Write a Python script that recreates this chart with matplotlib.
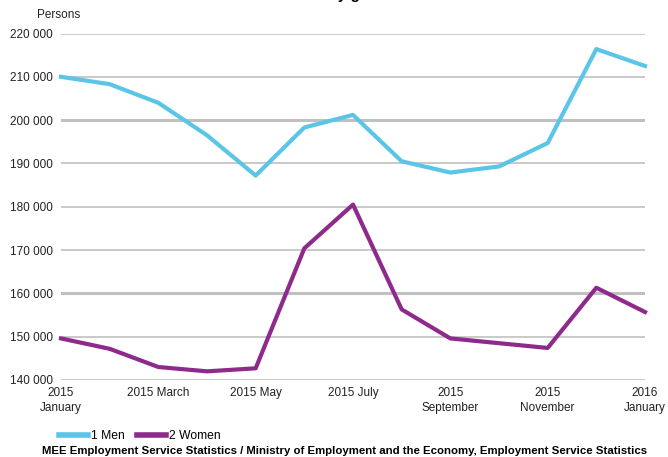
import numpy as np
import matplotlib
matplotlib.use("Agg")
import matplotlib.pyplot as plt
from matplotlib.ticker import FuncFormatter
from matplotlib.lines import Line2D

plt.rcParams['font.family'] = ['Liberation Sans', 'DejaVu Sans']

# monthly data, Jan 2015 .. Jan 2016
months = np.arange(13)
men = [210000, 208300, 204000, 196500, 187200, 198300, 201200,
       190500, 187900, 189300, 194700, 216400, 212500]
women = [149600, 147200, 143000, 142000, 142700, 170400, 180500,
         156300, 149600, 148500, 147400, 161300, 155700]
tick_pos = [0, 2, 4, 6, 8, 10, 12]
tick_labels = ["2015\nJanuary", "2015 March", "2015 May", "2015 July",
               "2015\nSeptember", "2015\nNovember", "2016\nJanuary"]
series_names = ["1 Men", "2 Women"]

c_men = "#5bc5e8"
c_women = "#8e2a8c"

fig = plt.figure(figsize=(6.68, 4.57), dpi=100)
ax = fig.add_axes([61/668, 1 - 380/457, 584/668, 346.5/457])

ax.set_xlim(0, 12)
ax.set_ylim(140000, 220000)
ax.set_yticks(np.arange(140000, 220001, 10000))
for v in ax.get_yticks():
    lw = 2.2 if v in (160000, 200000) else 1.2
    ax.axhline(v, color="#c0c0c0", lw=lw, zorder=1)

ax.plot(months, men, color=c_men, lw=3, zorder=3, clip_on=False)
ax.plot(months, women, color=c_women, lw=3, zorder=3, clip_on=False)

for s in ax.spines.values():
    s.set_visible(False)
ax.tick_params(length=0, labelsize=8.5, colors="#222222")
ax.tick_params(axis="y", pad=6)
ax.tick_params(axis="x", pad=5)
ax.yaxis.set_major_formatter(FuncFormatter(lambda v, p: f"{int(v):,}".replace(",", " ")))
ax.set_xticks(tick_pos)
ax.set_xticklabels(tick_labels, linespacing=1.3)

fig.text(37/668, 1 - 15/457, "Persons", fontsize=8.5, color="#222222", va="center")
# title sits mostly above the visible area, as in the cropped original
fig.text(0.48, 1 + 1/457, "Jobseekers by gender", fontsize=11, fontweight="bold",
         ha="center", va="baseline")

handles = [Line2D([], [], color=c_men, lw=4), Line2D([], [], color=c_women, lw=4)]
fig.legend(handles, series_names, loc="center left", bbox_to_anchor=(59/668, 1 - 436/457),
           ncol=2, frameon=False, fontsize=8.7, handlelength=2.4, handletextpad=0.25,
           columnspacing=1.0, borderaxespad=0, borderpad=0)
fig.text(345/668, 1 - 451/457,
         "MEE Employment Service Statistics / Ministry of Employment and the Economy, Employment Service Statistics",
         fontsize=8.2, fontweight="bold", ha="center", va="center")

fig.savefig("out.png", dpi=100)
